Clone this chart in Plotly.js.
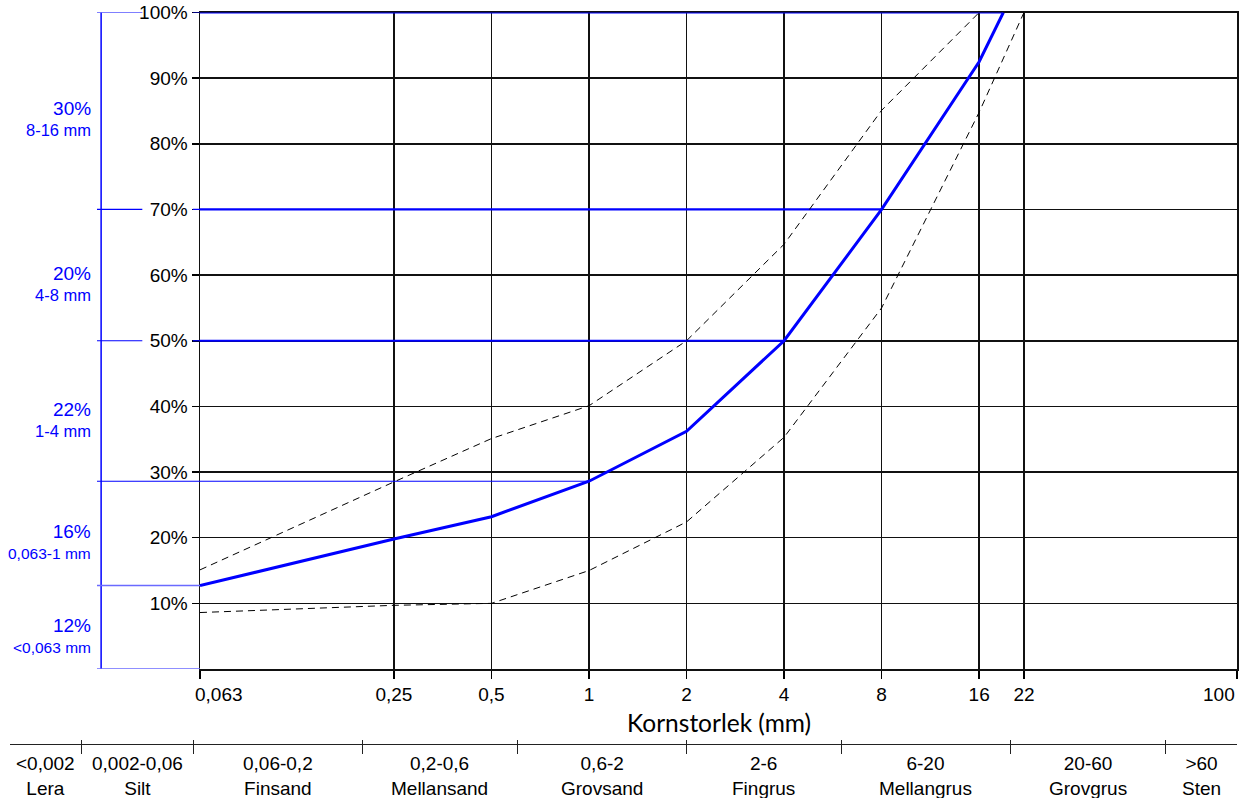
<!DOCTYPE html>
<html><head><meta charset="utf-8">
<script src="https://cdn.plot.ly/plotly-3.0.1.min.js"></script>
<style>html,body{margin:0;padding:0;background:#fff}#chart{width:1242px;height:798px}</style>
</head><body><div id="chart"></div>
<script>
// ---------- data ----------
const sieveSizes = [0.063, 0.25, 0.5, 1, 2, 4, 8, 16, 19];
const passingPct = [12.7, 19.8, 23.2, 28.6, 36.2, 50, 70, 92.5, 100];
const upperLimitSizes = [0.063, 0.25, 0.5, 1, 2, 4, 8, 16];
const upperLimitPct = [15.1, 28.5, 35.1, 40.1, 50, 64.7, 85.1, 100];
const lowerLimitSizes = [0.063, 0.25, 0.5, 1, 2, 4, 8, 16, 22];
const lowerLimitPct = [8.6, 9.7, 10, 15, 22.4, 35.3, 55, 84.8, 100];
const xTickVals = [0.063, 0.25, 0.5, 1, 2, 4, 8, 16, 22, 100];
const xTickText = ['0,063', '0,25', '0,5', '1', '2', '4', '8', '16', '22', '100'];
const yTickVals = [10, 20, 30, 40, 50, 60, 70, 80, 90, 100];
const yTickText = ['10%', '20%', '30%', '40%', '50%', '60%', '70%', '80%', '90%', '100%'];
const fractionEdgeSizes = [0.063, 1, 4, 8, 19];
const fractionShare = ['12%', '16%', '22%', '20%', '30%'];
const fractionRange = ['<0,063 mm', '0,063-1 mm', '1-4 mm', '4-8 mm', '8-16 mm'];
const classEdgesMm = [0.002, 0.06, 0.2, 0.6, 2, 6, 20, 60];
const classRange = ['<0,002', '0,002-0,06', '0,06-0,2', '0,2-0,6', '0,6-2', '2-6', '6-20', '20-60', '>60'];
const className = ['Lera', 'Silt', 'Finsand', 'Mellansand', 'Grovsand', 'Fingrus', 'Mellangrus', 'Grovgrus', 'Sten'];

// ---------- layout helpers ----------
const W = 1242, H = 798;
const BLUE = '#0000ff', LIGHTBLUE = '#6a6aff';
const FONT = 'Liberation Sans, Arial, sans-serif';
const xDom = [200 / W, 1237 / W];
const yDom = [(H - 669) / H, (H - 12.5) / H];
const xRange = [Math.log10(0.063), 2];
// bottom classification axis: same scale, extended to the left, clay/silt part compressed
const x3Dom = [10 / W, 1237 / W];
const perDom = (xRange[1] - xRange[0]) / (xDom[1] - xDom[0]);
const x3Range = [xRange[0] - (xDom[0] - x3Dom[0]) * perDom, 2];
const fineCut = 0.06, squeeze = 0.234;
const shown = v => v >= fineCut ? v : Math.pow(10, Math.log10(fineCut) + (Math.log10(v) - Math.log10(fineCut)) * squeeze);
const classEdgesShown = classEdgesMm.map(shown);
const classLogEdges = [x3Range[0], ...classEdgesShown.map(Math.log10), x3Range[1]];

const passAt = s => passingPct[sieveSizes.indexOf(s)];
const fractionEdgePct = fractionEdgeSizes.map(passAt);
const leftBounds = [0, ...fractionEdgePct];

const traces = [];
// left blue scale (own subplot x2/y2)
traces.push({x: [0.04, 0.04], y: [0, 100], xaxis: 'x2', yaxis: 'y2', mode: 'lines',
  line: {color: BLUE, width: 1.5}, hoverinfo: 'skip', showlegend: false});
leftBounds.forEach(b => {
  const labelled = yTickVals.includes(b);
  const xs = labelled ? [0, 0.44, null, 0.93, 1] : [0, 1];
  const ys = labelled ? [b, b, null, b, b] : [b, b];
  traces.push({x: xs, y: ys, xaxis: 'x2', yaxis: 'y2', mode: 'lines',
    line: {color: b < 20 ? LIGHTBLUE : BLUE, width: b < 20 ? 1.5 : 1.2},
    hoverinfo: 'skip', showlegend: false});
});
// blue boundary lines inside plot, from the left edge to the curve
fractionEdgeSizes.forEach((s, i) => {
  if (s === sieveSizes[0]) return;
  const p = fractionEdgePct[i];
  traces.push({x: [sieveSizes[0], s], y: [p, p], xaxis: 'x', yaxis: 'y', mode: 'lines',
    line: {color: BLUE, width: p >= 50 ? 2.2 : 1}, hoverinfo: 'skip', showlegend: false});
});
// limit curves
traces.push({x: upperLimitSizes, y: upperLimitPct, mode: 'lines', line: {color: '#000', width: 1, dash: '7px,5px'}, hoverinfo: 'skip', showlegend: false});
traces.push({x: lowerLimitSizes, y: lowerLimitPct, mode: 'lines', line: {color: '#000', width: 1, dash: '7px,5px'}, hoverinfo: 'skip', showlegend: false});
// grading curve
traces.push({x: sieveSizes, y: passingPct, mode: 'lines', line: {color: BLUE, width: 3}, hoverinfo: 'skip', showlegend: false});
// anchor traces for bottom classification axes
traces.push({x: classEdgesShown, y: classEdgesShown.map(() => null), xaxis: 'x3', yaxis: 'y3', mode: 'lines', hoverinfo: 'skip', showlegend: false});
traces.push({x: classEdgesShown, y: classEdgesShown.map(() => null), xaxis: 'x4', yaxis: 'y3', mode: 'lines', hoverinfo: 'skip', showlegend: false});

const annotations = [];
// fraction labels
for (let i = 0; i < fractionShare.length; i++) {
  const mid = (leftBounds[i] + leftBounds[i + 1]) / 2;
  const small = fractionRange[i].length > 8 ? 15.5 : 16.5;
  annotations.push({xref: 'x2', yref: 'y2', x: 0, y: mid, xanchor: 'right', yanchor: 'middle',
    xshift: -4, yshift: -8, showarrow: false, align: 'right',
    text: '<span style="font-size:19px">' + fractionShare[i] + '</span><br><span style="font-size:' + small + 'px">' + fractionRange[i] + '</span>',
    font: {family: FONT, size: 16, color: BLUE}});
}
// class labels under the bottom axis
for (let i = 0; i < classRange.length; i++) {
  const mid = (classLogEdges[i] + classLogEdges[i + 1]) / 2;
  annotations.push({xref: 'x3', yref: 'paper', x: mid, y: (H - 776) / H, xanchor: 'center', yanchor: 'middle',
    showarrow: false, text: classRange[i] + '<br>' + className[i],
    font: {family: FONT, size: 19, color: '#000'}});
}
// end tick labels of the size axis, kept inside the plot width
const lastI = xTickVals.length - 1;
[[0, 'left'], [lastI, 'right']].forEach(([i, anchor]) => {
  annotations.push({xref: 'x', yref: 'paper', x: Math.log10(xTickVals[i]), y: (H - 694) / H,
    xanchor: anchor, yanchor: 'middle', xshift: anchor === 'left' ? -7 : 0, showarrow: false,
    text: xTickText[i], font: {family: FONT, size: 19, color: '#000'}});
});
// x title
annotations.push({xref: 'paper', yref: 'paper', x: (xDom[0] + xDom[1]) / 2, y: (H - 722) / H,
  xanchor: 'center', yanchor: 'middle', showarrow: false, text: 'Kornstorlek (mm)',
  font: {family: 'Lato, Open Sans, sans-serif', size: 24.5, color: '#000'}});

const xTickShown = xTickText.map((t, i) => (i === 0 || i === lastI) ? '' : t);

const bottomPos = (H - 743.5) / H;
const layout = {
  width: W, height: H,
  margin: {l: 0, r: 0, t: 0, b: 0},
  paper_bgcolor: '#fff', plot_bgcolor: 'rgba(0,0,0,0)',
  showlegend: false,
  font: {family: FONT, color: '#000'},
  xaxis: {type: 'log', domain: xDom, range: xRange, anchor: 'y',
    tickmode: 'array', tickvals: xTickVals, ticktext: xTickShown, ticklabeloverflow: 'allow',
    ticks: 'outside', ticklen: 8, tickwidth: 1.5, tickcolor: '#000',
    showgrid: true, gridcolor: '#111', gridwidth: 1.5,
    showline: true, linecolor: '#111', linewidth: 1.5, mirror: true,
    zeroline: false, layer: 'below traces',
    tickfont: {family: FONT, size: 19, color: '#000'}},
  yaxis: {domain: yDom, range: [0, 100], anchor: 'x',
    tickmode: 'array', tickvals: yTickVals, ticktext: yTickText, ticklabeloverflow: 'allow',
    ticks: 'outside', ticklen: 7, tickwidth: 1.5, tickcolor: '#000',
    showgrid: true, gridcolor: '#111', gridwidth: 1.5,
    showline: true, linecolor: '#111', linewidth: 1.5, mirror: true,
    zeroline: false, layer: 'below traces',
    tickfont: {family: FONT, size: 19, color: '#000'}},
  xaxis2: {domain: [97 / W, 200 / W], range: [0, 1], anchor: 'y2', visible: false, showgrid: false},
  yaxis2: {domain: yDom, range: [0, 100], anchor: 'x2', visible: false, showgrid: false},
  xaxis3: {type: 'log', domain: x3Dom, range: x3Range, anchor: 'y3',
    tickmode: 'array', tickvals: classEdgesShown, ticks: 'outside', ticklen: 9, tickwidth: 1.2, tickcolor: '#222',
    showticklabels: false, showgrid: false, zeroline: false,
    showline: true, linecolor: '#222', linewidth: 1.2},
  xaxis4: {type: 'log', overlaying: 'x3', range: x3Range, anchor: 'y3',
    tickmode: 'array', tickvals: classEdgesShown, ticks: 'inside', ticklen: 4, tickwidth: 1.2, tickcolor: '#222',
    showticklabels: false, showgrid: false, zeroline: false, showline: false},
  yaxis3: {domain: [bottomPos, bottomPos + 0.01], range: [0, 1], anchor: 'x3', visible: false, showgrid: false},
  annotations: annotations
};

Plotly.newPlot('chart', traces, layout, {staticPlot: true, displayModeBar: false});
</script></body></html>
